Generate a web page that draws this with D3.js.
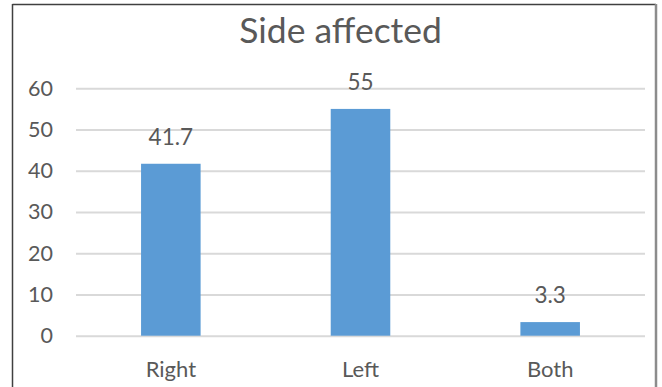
<!DOCTYPE html>
<html>
<head>
<meta charset="utf-8">
<script src="https://cdn.jsdelivr.net/npm/d3@7"></script>
<style>
  html, body { margin: 0; padding: 0; background: #fff; }
  svg { display: block; }
  text { font-family: Lato, "Open Sans", sans-serif; fill: #595959; }
</style>
</head>
<body>
<script>
// Chart data
const categories = ["Right", "Left", "Both"];
const values = [41.7, 55, 3.3];
const yTicks = [0, 10, 20, 30, 40, 50, 60];
const title = "Side affected";

const W = 662, H = 387;
const plot = { left: 76, right: 645, top: 88.3, bottom: 335.7 };

const svg = d3.select("body").append("svg")
  .attr("width", W).attr("height", H);

svg.append("rect").attr("width", W).attr("height", H).attr("fill", "#fff");

// Outer frame: dark top and left edges, grey right edge
svg.append("line").attr("x1", 12.5).attr("x2", 656).attr("y1", 4.5).attr("y2", 4.5)
  .attr("stroke", "#404040").attr("stroke-width", 1.5);
svg.append("line").attr("x1", 12.5).attr("x2", 12.5).attr("y1", 4).attr("y2", H)
  .attr("stroke", "#404040").attr("stroke-width", 1.5);
svg.append("line").attr("x1", 656).attr("x2", 656).attr("y1", 4).attr("y2", H)
  .attr("stroke", "#8c8c8c").attr("stroke-width", 2.5);

const x = d3.scaleBand().domain(categories)
  .range([plot.left, plot.right])
  .paddingInner(0.686).paddingOuter(0.343);

const y = d3.scaleLinear().domain([0, 60]).range([plot.bottom, plot.top]);

// Gridlines and y labels
const yAxis = d3.axisLeft(y).tickValues(yTicks)
  .tickSize(-(plot.right - plot.left)).tickPadding(23);
const gy = svg.append("g").attr("transform", `translate(${plot.left},0)`).call(yAxis);
gy.select(".domain").remove();
gy.selectAll(".tick line").attr("stroke", "#d9d9d9").attr("stroke-width", 2);
gy.selectAll(".tick text")
  .attr("font-size", 21.5).attr("fill", "#595959")
  .style("font-family", "Lato, sans-serif");

// Category labels
const xAxis = d3.axisBottom(x).tickSize(0).tickPadding(26);
const gx = svg.append("g").attr("transform", `translate(0,${plot.bottom})`).call(xAxis);
gx.select(".domain").remove();
gx.selectAll(".tick text")
  .attr("font-size", 22).attr("fill", "#595959")
  .style("font-family", "Lato, sans-serif");

// Bars
svg.selectAll("rect.bar").data(categories).join("rect")
  .attr("class", "bar")
  .attr("x", d => x(d))
  .attr("width", x.bandwidth())
  .attr("y", (d, i) => y(values[i]))
  .attr("height", (d, i) => y(0) - y(values[i]))
  .attr("fill", "#5b9bd5");

// Value labels
svg.selectAll("text.val").data(categories).join("text")
  .attr("class", "val")
  .attr("x", d => x(d) + x.bandwidth() / 2)
  .attr("y", (d, i) => y(values[i]) - 19)
  .attr("text-anchor", "middle")
  .attr("font-size", 22.5)
  .text((d, i) => values[i]);

// Title
svg.append("text")
  .attr("x", 340.5).attr("y", 43)
  .attr("text-anchor", "middle")
  .attr("font-size", 35.5)
  .text(title);
</script>
</body>
</html>
